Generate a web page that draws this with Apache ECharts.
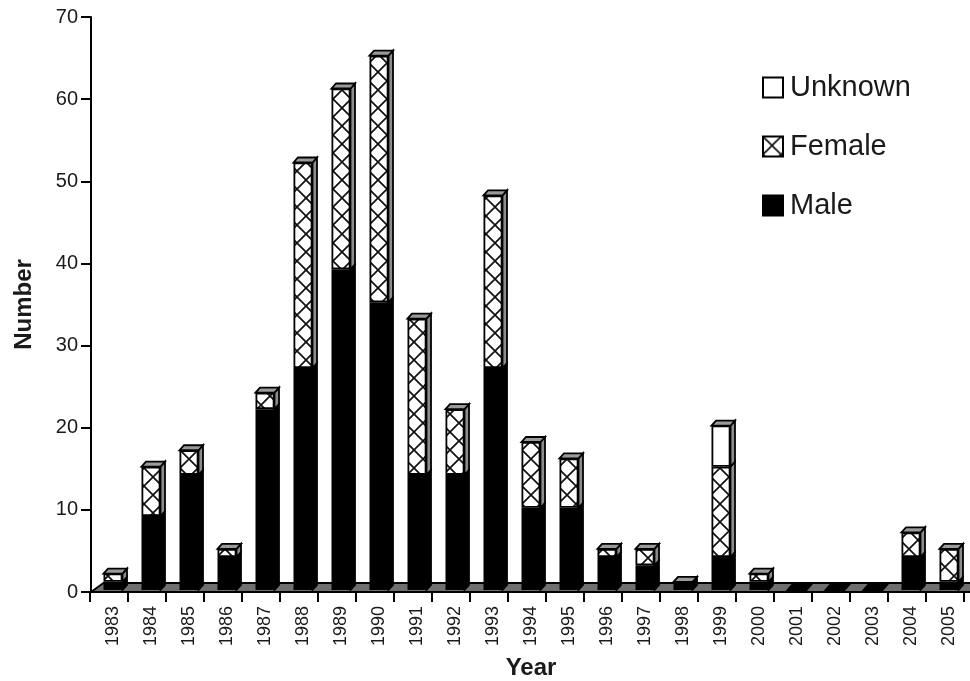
<!DOCTYPE html>
<html><head><meta charset="utf-8">
<style>html,body{margin:0;padding:0;background:#fff}#c{width:970px;height:681px}</style>
<script src="https://cdn.jsdelivr.net/npm/echarts@6/dist/echarts.min.js"></script>
</head><body><div id="c"></div>
<script>
const years = ['1983','1984','1985','1986','1987','1988','1989','1990','1991','1992','1993','1994','1995','1996','1997','1998','1999','2000','2001','2002','2003','2004','2005'];
const male    = [1,9,14,4,22,27,39,35,14,14,27,10,10,4,3,1,4,1,0,0,0,4,1];
const female  = [1,6,3,1,2,25,22,30,19,8,21,8,6,1,2,0,11,1,0,0,0,3,4];
const unknown = [0,0,0,0,0,0,0,0,0,0,0,0,0,0,0,0,5,0,0,0,0,0,0];

function hatch(){
  const s=18, c=document.createElement('canvas'); c.width=s; c.height=s;
  const g=c.getContext('2d');
  g.fillStyle='#fff'; g.fillRect(0,0,s,s);
  g.strokeStyle='#111'; g.lineWidth=1.7;
  g.beginPath();
  g.moveTo(-2,-2); g.lineTo(s+2,s+2);
  g.moveTo(-2,s+2); g.lineTo(s+2,-2);
  g.stroke();
  return c;
}
const pattern={image:hatch(),repeat:'repeat'};

const rows3d=[];
years.forEach((y,i)=>{
  const a=male[i], b=a+female[i], c=b+unknown[i];
  if(a>0) rows3d.push([i,0,a,0,c]);
  if(b>a) rows3d.push([i,a,b,1,c]);
  if(c>b) rows3d.push([i,b,c,2,c]);
  if(c===0) rows3d.push([i,0,0,0,0]);
});
const DX=4.5, DY=5, HALF=9.5;

function render3d(params,api){
  const i=api.value(0), v0=api.value(1), v1=api.value(2), kind=api.value(3), tot=api.value(4);
  const p0=api.coord([i,v0]), p1=api.coord([i,v1]);
  const xl=p0[0]-HALF, xr=p0[0]+HALF, yb=p0[1], yt=p1[1];
  const kids=[];
  if(tot>0){
    kids.push({type:'polygon',shape:{points:[[xr,yb],[xr+DX,yb-DY],[xr+DX,yt-DY],[xr,yt]]},
      style:{fill:kind===0?'#000':'#8c8c8c',stroke:'#000',lineWidth:1.8}});
  }
  if(v1===tot){
    kids.push({type:'polygon',shape:{points:[[xl,yt],[xl+DX,yt-DY],[xr+DX,yt-DY],[xr,yt]]},
      style:{fill:tot>0?'#9a9a9a':'#000',stroke:'#000',lineWidth:1.8}});
  }
  return {type:'group',children:kids};
}
function renderFloor(params,api){
  const cs=params.coordSys, yb=cs.y+cs.height, yt=yb-9;
  return {type:'polygon',shape:{points:[[cs.x+1.5,yb],[cs.x+14,yt],[972,yt],[972,yb]]},
    style:{fill:'#6f6f6f',stroke:'#000',lineWidth:1.8}};
}

const chart=echarts.init(document.getElementById('c'),null,{renderer:'canvas'});
const font='"Liberation Sans", Arial, sans-serif';
chart.setOption({
  animation:false,
  backgroundColor:'#fff',
  grid:[
    {left:89.5,top:17,width:874,height:575,outerBoundsMode:'none'},
    {left:94,top:14.5,width:874,height:575.5,outerBoundsMode:'none'}
  ],
  xAxis:[
    {type:'category',gridIndex:0,data:years,
      axisLine:{lineStyle:{color:'#000',width:2}},
      axisTick:{show:true,length:10,lineStyle:{color:'#000',width:2}},
      axisLabel:{show:false}},
    {type:'category',gridIndex:1,data:years,
      name:'Year',nameLocation:'middle',nameGap:66,
      nameTextStyle:{fontFamily:font,fontWeight:'bold',fontSize:24,color:'#1a1a1a'},
      axisLine:{show:false},axisTick:{show:false},
      axisLabel:{rotate:90,interval:0,margin:16,padding:[6,0,0,0],fontFamily:font,fontSize:18,color:'#1a1a1a'}}
  ],
  yAxis:[
    {type:'value',gridIndex:0,min:0,max:70,interval:10,offset:-1.5,
      name:'Number',nameLocation:'middle',nameGap:55,
      nameTextStyle:{fontFamily:font,fontWeight:'bold',fontSize:24,color:'#1a1a1a'},
      axisLine:{show:true,lineStyle:{color:'#000',width:2}},
      axisTick:{show:true,length:10,lineStyle:{color:'#000',width:2}},
      axisLabel:{margin:13,fontFamily:font,fontSize:20,color:'#1a1a1a'},
      splitLine:{show:false}},
    {type:'value',gridIndex:1,min:0,max:70,interval:10,show:false,splitLine:{show:false}}
  ],
  legend:{
    data:['Unknown','Female','Male'],orient:'vertical',left:757,top:68,
    itemWidth:20,itemHeight:20,itemGap:30,icon:'rect',
    selectedMode:false,
    textStyle:{fontFamily:font,fontSize:29,color:'#1a1a1a',padding:[0,0,0,2]}
  },
  series:[
    {type:'custom',name:'floor',xAxisIndex:0,yAxisIndex:0,data:[[0,0]],renderItem:renderFloor,z:1,clip:false,silent:true},
    {type:'bar',name:'Male',xAxisIndex:1,yAxisIndex:1,stack:'s',data:male,barWidth:19,z:3,
      itemStyle:{color:'#000',borderColor:'#000',borderWidth:1.8}},
    {type:'bar',name:'Female',xAxisIndex:1,yAxisIndex:1,stack:'s',data:female,barWidth:19,z:3,
      itemStyle:{color:pattern,borderColor:'#000',borderWidth:1.8}},
    {type:'bar',name:'Unknown',xAxisIndex:1,yAxisIndex:1,stack:'s',data:unknown,barWidth:19,z:3,
      itemStyle:{color:'#fff',borderColor:'#000',borderWidth:1.8}},
    {type:'custom',name:'depth',xAxisIndex:1,yAxisIndex:1,data:rows3d,renderItem:render3d,z:4,clip:false,silent:true,
      encode:{x:0,y:2}}
  ]
});
</script></body></html>
